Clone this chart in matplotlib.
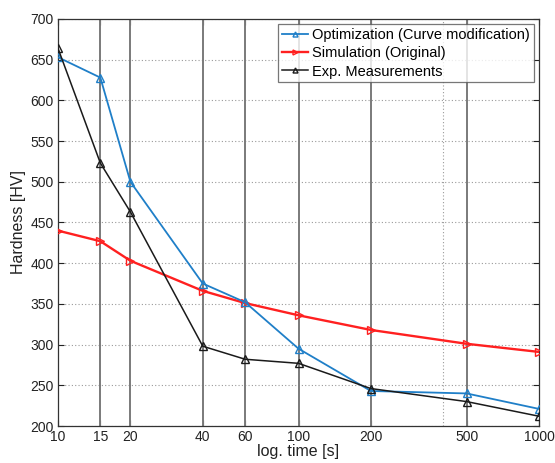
import matplotlib
matplotlib.use("Agg")
import matplotlib.pyplot as plt
from matplotlib.ticker import FixedLocator, FixedFormatter, NullLocator

plt.rcParams['font.family'] = ['Liberation Sans', 'DejaVu Sans']

time_s = [10, 15, 20, 40, 60, 100, 200, 500, 1000]
tick_labels = ['10', '15', '20', '40', '60', '100', '200', '500', '1000']
optimization = [653, 628, 500, 375, 352, 295, 243, 240, 221]
simulation = [440, 427, 403, 366, 351, 336, 318, 301, 291]
experiment = [664, 523, 463, 298, 282, 277, 246, 230, 212]

fig = plt.figure(figsize=(5.55, 4.63), dpi=100)
ax = fig.add_axes([58/555, 37/463, (539-58)/555, (426-19)/463])

ax.set_xscale('log')
ax.set_xlim(10, 1000)
ax.set_ylim(200, 700)

# grid
for t in time_s[1:-1]:
    ax.axvline(t, color='#7a7a7a', lw=1.4, zorder=1)
ax.axvline(400, color='#9a9a9a', lw=0.8, ls=(0, (1, 2)), zorder=1)
ax.yaxis.grid(True, color='#9a9a9a', lw=0.8, ls=(0, (1, 2)))
ax.set_axisbelow(True)

ax.plot(time_s, optimization, color='#1f7fc8', lw=1.3, marker='^', ms=6,
        mfc='none', mew=1.0, label='Optimization (Curve modification)', zorder=4)
ax.plot(time_s, simulation, color='#ff2020', lw=1.7, marker='>', ms=6,
        mfc='none', mew=1.0, label='Simulation (Original)', zorder=3)
ax.plot(time_s, experiment, color='#1a1a1a', lw=1.1, marker='^', ms=6,
        mfc='none', mew=1.0, label='Exp. Measurements', zorder=5)

ax.xaxis.set_major_locator(FixedLocator(time_s))
ax.xaxis.set_major_formatter(FixedFormatter(tick_labels))
ax.xaxis.set_minor_locator(NullLocator())
ax.set_yticks(range(200, 701, 50))

ax.tick_params(direction='in', top=True, right=True, length=4, width=0.8,
               labelsize=10, colors='#222222', pad=3)
ax.tick_params(axis='x', pad=3)
for s in ax.spines.values():
    s.set_color('#333333')
    s.set_linewidth(0.9)

ax.set_xlabel('log. time [s]', fontsize=11.5, color='#222222', labelpad=0)
ax.set_ylabel('Hardness [HV]', fontsize=11.5, color='#222222', labelpad=3)

leg = ax.legend(loc='upper right', fontsize=10.5, frameon=True, fancybox=False,
                borderpad=0.25, labelspacing=0.3, handlelength=1.8,
                handletextpad=0.3, borderaxespad=0.35, markerscale=0.6)
leg.get_frame().set_edgecolor('#555555')
leg.get_frame().set_linewidth(0.9)

fig.savefig('out.png', dpi=100)
